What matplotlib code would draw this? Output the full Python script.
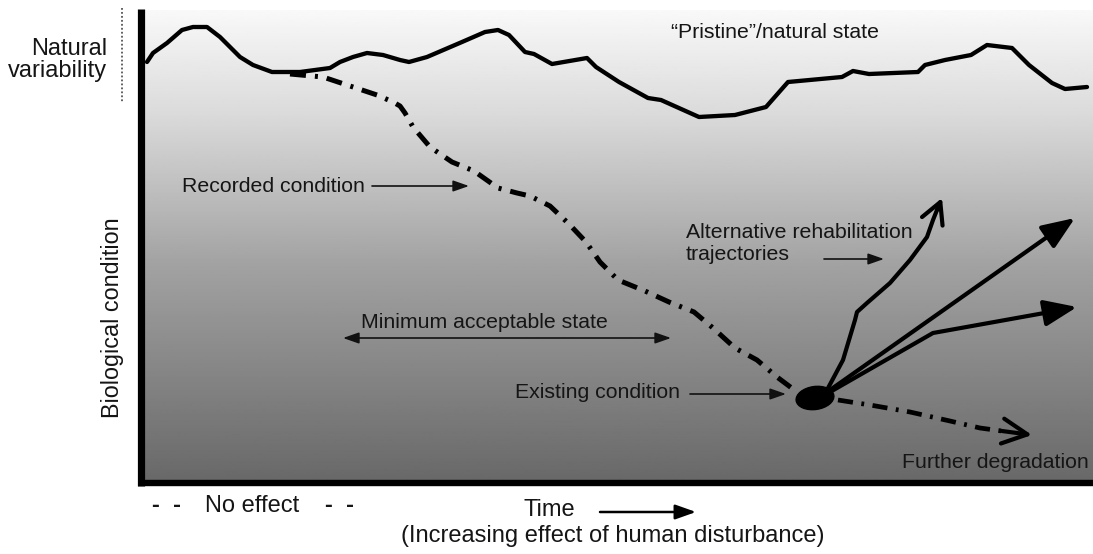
import matplotlib.pyplot as plt
import numpy as np
from matplotlib.patches import Ellipse

plt.rcParams['font.family'] = ['Liberation Sans', 'DejaVu Sans']

# diagram units: x = time (0..1093), y = condition drawn downwards (0 = top)
natural_x = [147, 153, 167, 182, 193, 207, 220, 240, 253, 272, 300, 330, 340, 353, 367,
             383, 400, 409, 427, 462, 485, 498, 509, 525, 534, 552, 587, 596, 619, 648,
             661, 699, 735, 766, 788, 842, 853, 869, 918, 925, 945, 971, 987, 1012, 1029,
             1052, 1065, 1087]
natural_y = [62, 53, 43, 30, 27, 27, 37, 57, 65, 72, 72, 68, 62, 57, 53,
             55, 60, 62, 57, 42, 32, 30, 35, 52, 54, 64, 58, 67, 82, 98,
             100, 117, 115, 107, 82, 77, 71, 74, 72, 65, 60, 55, 45, 48, 65,
             83, 89, 87]

recorded_x = [290, 323, 350, 377, 393, 400, 405, 413, 430, 452, 474, 498, 517, 530, 550,
              569, 586, 600, 618, 645, 669, 694, 713, 735, 757, 777, 797]
recorded_y = [74, 77, 86, 95, 102, 106, 113, 127, 147, 162, 171, 188, 193, 196, 206,
              224, 242, 262, 280, 291, 302, 312, 328, 348, 360, 377, 392]

further_x = [838, 870, 910, 950, 980, 1002]
further_y = [400, 405, 412, 421, 428, 431]
further_tip = (1032, 435)

existing_x, existing_y = 815, 398

# rehabilitation trajectories
traj1_x = [827, 843, 855, 857, 867, 890, 910, 927, 933, 937]
traj1_y = [390, 360, 320, 312, 303, 283, 260, 237, 220, 210]
traj1_tip = (942, 198)
traj2_x = [830, 1050]
traj2_y = [390, 235]
traj2_tip = (1075, 218)
traj3_x = [830, 933, 1050]
traj3_y = [392, 333, 312]
traj3_tip = (1077, 307)

# text labels: (text, x, y, ha, size)
labels = [
    ("Natural", 107, 49, "right", 17),
    ("variability", 107, 71, "right", 17),
    ("\u201cPristine\u201d/natural state", 671, 33, "left", 15.3),
    ("Recorded condition", 182, 186, "left", 15.3),
    ("Alternative rehabilitation", 686, 232, "left", 15.3),
    ("trajectories", 686, 255, "left", 15.3),
    ("Minimum acceptable state", 361, 323, "left", 15.3),
    ("Existing condition", 515, 393, "left", 15.3),
    ("Further degradation", 902, 462, "left", 15.3),
    ("No effect", 205, 506, "left", 17),
    ("Time", 523, 510, "left", 17),
    ("(Increasing effect of human disturbance)", 613, 536, "center", 17),
]
no_effect_marks_x = [152, 325]

# thin pointer arrows: (x_from, y_from, x_to, y_to)
pointers = [
    (372, 186, 469, 186),
    (824, 259, 884, 259),
    (690, 394, 786, 394),
]

fig = plt.figure(figsize=(10.93, 5.54), dpi=100)
ax = fig.add_axes([0, 0, 1, 1])
ax.set_xlim(0, 1093)
ax.set_ylim(554, 0)
ax.axis('off')

# grey background gradient
rows = np.linspace(10, 482, 300)
shade = np.interp(rows, [10, 115, 265, 482], [0.975, 0.855, 0.635, 0.41])
ax.imshow(shade[:, None], extent=(144, 1093, 482, 10), aspect='auto',
          cmap='gray', vmin=0, vmax=1, zorder=0)

# axes frame
ax.plot([141, 141], [9, 486], color='black', lw=5.2, solid_capstyle='butt', zorder=3)
ax.plot([138, 1093], [483, 483], color='black', lw=4.6, solid_capstyle='butt', zorder=3)
ax.plot([122, 122], [8, 103], color='#555555', lw=1.3, ls=(0, (1, 1.2)), zorder=3)

# natural state line
ax.plot(natural_x, natural_y, color='black', lw=3.1, solid_joinstyle='round',
        solid_capstyle='round', zorder=4)

# recorded condition and further degradation
dd = (0, (3.2, 1.8, 0.6, 1.8))
ax.plot(recorded_x, recorded_y, color='black', lw=3.6, ls=dd, dash_capstyle='butt', zorder=4)
ax.plot(further_x, further_y, color='black', lw=3.4, ls=dd, dash_capstyle='butt', zorder=4)
ax.annotate('', xy=further_tip, xytext=(further_x[-1], further_y[-1]),
            arrowprops=dict(arrowstyle='->,head_length=0.9,head_width=0.45', lw=3.0,
                            color='black', shrinkA=0, shrinkB=0, mutation_scale=20), zorder=4)

# existing condition blob
ax.add_patch(Ellipse((existing_x, existing_y), 38, 23, angle=-8, color='black', zorder=5))

# trajectories
for tx, ty, tip, style in [(traj1_x, traj1_y, traj1_tip, '->,head_length=0.75,head_width=0.4'),
                           (traj2_x, traj2_y, traj2_tip, '-|>,head_length=1.0,head_width=0.4'),
                           (traj3_x, traj3_y, traj3_tip, '-|>,head_length=1.0,head_width=0.4')]:
    ax.plot(tx, ty, color='black', lw=3.0, solid_joinstyle='round', solid_capstyle='round', zorder=4)
    ax.annotate('', xy=tip, xytext=(tx[-1], ty[-1]),
                arrowprops=dict(arrowstyle=style, lw=3.0, color='black',
                                shrinkA=0, shrinkB=0, mutation_scale=20), zorder=4)

# thin arrows
for x0, y0, x1, y1 in pointers:
    ax.annotate('', xy=(x1, y1), xytext=(x0, y0),
                arrowprops=dict(arrowstyle='-|>,head_length=0.8,head_width=0.28', lw=1.2,
                                color='#111111', shrinkA=0, shrinkB=0, mutation_scale=12), zorder=4)
ax.annotate('', xy=(343, 338), xytext=(671, 338),
            arrowprops=dict(arrowstyle='<|-|>,head_length=0.8,head_width=0.28', lw=1.2,
                            color='#111111', shrinkA=0, shrinkB=0, mutation_scale=12), zorder=4)
ax.annotate('', xy=(696, 512), xytext=(600, 512),
            arrowprops=dict(arrowstyle='-|>,head_length=0.9,head_width=0.32', lw=1.8,
                            color='black', shrinkA=0, shrinkB=0, mutation_scale=14), zorder=4)

for text, x, y, ha, size in labels:
    ax.text(x, y, text, ha=ha, va='center', fontsize=size, color='#151515', zorder=6)
for x in no_effect_marks_x:
    ax.text(x, 506, "-  -", ha='left', va='center', fontsize=17, fontweight='bold', color='#151515')
ax.text(112, 318, "Biological condition", rotation=90, ha='center', va='center',
        fontsize=16.8, color='#151515')

fig.savefig('out.png', dpi=100)
